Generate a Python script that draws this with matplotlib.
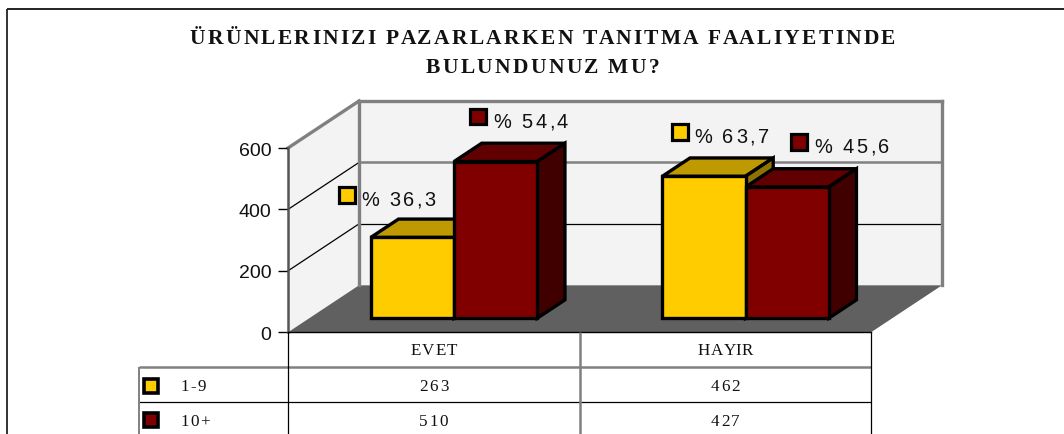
import matplotlib
matplotlib.use("Agg")
import matplotlib.pyplot as plt
from matplotlib.patches import Polygon, Rectangle
from matplotlib.text import Text
from matplotlib.transforms import Bbox, IdentityTransform

# ---------- data ----------
title_text = "ÜRÜNLERINIZI PAZARLARKEN TANITMA FAALIYETINDE\nBULUNDUNUZ MU?"
categories = ["EVET", "HAYIR"]
series_names = ["1-9", "10+"]
values_small = [263, 462]
values_large = [510, 427]
labels_small = ["% 36,3", "% 63,7"]
labels_large = ["% 54,4", "% 45,6"]
y_ticks = [0, 200, 400, 600]

# ---------- style ----------
W, H = 1064, 435
YELLOW = ("#FFCC00", "#BF9900", "#8F7300")
RED = ("#800000", "#600000", "#400000")
WALL = "#F3F3F3"
FLOOR = "#606060"
GRID = "#808080"
SERIF = "Liberation Serif"
SANS = "Liberation Sans"
PX = 0.72  # points per pixel at dpi 100


class SpacedText(Text):
    """A single text object whose glyphs are drawn with extra tracking."""

    def __init__(self, x, y, text, spacing=0.0, line_px=0.0, **kw):
        super().__init__(x, y, text, **kw)
        self.spacing = spacing
        self.line_px = line_px

    def _glyphs(self, renderer):
        fp = self.get_fontproperties()
        measure = lambda s: renderer.get_text_width_height_descent(s, fp, False)[0]
        x0, y0 = self.get_transform().transform(self.get_unitless_position())
        out = []
        for n, line in enumerate(self.get_text().split("\n")):
            bar = measure("|")
            total = measure(line + "|") - bar + self.spacing * (len(line) - 1)
            start = x0 - total / 2 if self.get_ha() == "center" else x0
            for i, ch in enumerate(line):
                out.append((ch, start + measure(line[:i] + "|") - bar + i * self.spacing,
                            y0 - n * self.line_px))
        return out, fp

    def draw(self, renderer):
        glyphs, fp = self._glyphs(renderer)
        for ch, px, py in glyphs:
            t = Text(px, py, ch, transform=IdentityTransform(), fontproperties=fp,
                     color=self.get_color(), va="baseline", ha="left")
            t.set_figure(self.get_figure())
            t.draw(renderer)

    def get_window_extent(self, renderer=None, dpi=None):
        if renderer is None:
            renderer = self.get_figure()._get_renderer()
        glyphs, fp = self._glyphs(renderer)
        size = fp.get_size_in_points() / PX
        xs = [g[1] for g in glyphs]
        ys = [g[2] for g in glyphs]
        return Bbox([[min(xs), min(ys) - 0.2 * size], [max(xs) + 0.6 * size, max(ys) + 0.75 * size]])


fig = plt.figure(figsize=(W / 100, H / 100), dpi=100, facecolor="white")

# page axes in reference pixels, for frame, title and table
page = fig.add_axes([0, 0, 1, 1], zorder=3)
page.set_xlim(0, W)
page.set_ylim(H, 0)
page.axis("off")

# chart axes: the front plane of the oblique 3-D box
LEFT, RIGHT, BASE, TOP = 288, 871, 333.3, 149
ax = fig.add_axes([LEFT / W, 1 - BASE / H, (RIGHT - LEFT) / W, (BASE - TOP) / H], zorder=2)
ax.patch.set_visible(False)
ax.set_xlim(0, len(categories))
ax.set_ylim(0, 600)
ax.set_xticks([])
ax.set_yticks(y_ticks)
ax.set_yticklabels([str(v) for v in y_ticks], family=SANS, fontsize=14, color="#111111")
ax.tick_params(axis="y", length=7, width=1, pad=5, color="black")
for s in ("top", "right"):
    ax.spines[s].set_visible(False)
ax.spines["left"].set(color="#555555", linewidth=1.8)
ax.spines["bottom"].set(color="black", linewidth=1)

DX = 71 / ((RIGHT - LEFT) / len(categories))  # depth shift in category units
DV = 47 / ((BASE - TOP) / 600)               # depth shift in value units


def P(x, v, d=0.0):
    return (x + d * DX, v + d * DV)


def poly(pts, **kw):
    kw.setdefault("joinstyle", "miter")
    ax.add_patch(Polygon(pts, closed=True, clip_on=False, **kw))


def seg(a, b, color, lw, z=1):
    ax.plot([a[0], b[0]], [a[1], b[1]], color=color, lw=lw, clip_on=False, zorder=z,
            solid_capstyle="projecting")


# walls and floor
n = len(categories)
poly([P(0, 0), P(0, 600), P(0, 600, 1), P(0, 0, 1)], facecolor=WALL, edgecolor="none", zorder=0.5)
poly([P(0, 0, 1), P(0, 600, 1), P(n, 600, 1), P(n, 0, 1)], facecolor=WALL, edgecolor="none", zorder=0.5)
poly([P(0, 0), P(0, 0, 1), P(n, 0, 1), P(n, 0)], facecolor=FLOOR, edgecolor="none", zorder=0.6)

# gridlines
for v in y_ticks[1:-1]:
    style = (GRID, 1.8) if v == 400 else ("black", 0.9)
    seg(P(0, v), P(0, v, 1), "black", 0.9)
    seg(P(0, v, 1), P(n, v, 1), *style)
# wall edges
seg(P(0, 600), P(0, 600, 1), GRID, 2.4, 1.2)
seg(P(0, 600, 1), P(n, 600, 1), GRID, 2.4, 1.2)
seg(P(0, 0, 1), P(0, 600, 1), GRID, 2.4, 1.2)
seg(P(n, 0, 1), P(n, 600, 1), GRID, 2.4, 1.2)

# bars
BAR_W = 0.2855
MARGIN = 0.211
D0, D1 = 0.30, 0.69
LW = 2.4


def solid(x, v, colors, z):
    kw = dict(edgecolor="black", linewidth=LW, zorder=z)
    # top and side first, front last
    poly([P(x, v, D0), P(x, v, D1), P(x + BAR_W, v, D1), P(x + BAR_W, v, D0)], facecolor=colors[1], **kw)
    poly([P(x + BAR_W, 0, D0), P(x + BAR_W, 0, D1), P(x + BAR_W, v, D1), P(x + BAR_W, v, D0)],
         facecolor=colors[2], **kw)


def front(x, v, colors, z):
    poly([P(x, 0, D0), P(x, v, D0), P(x + BAR_W, v, D0), P(x + BAR_W, 0, D0)],
         facecolor=colors[0], edgecolor="black", linewidth=LW, zorder=z)


for i in range(n):
    x_small = i + MARGIN
    x_large = x_small + BAR_W
    solid(x_small, values_small[i], YELLOW, 2)
    solid(x_large, values_large[i], RED, 2.1)
    front(x_small, values_small[i], YELLOW, 2.2)
    front(x_large, values_large[i], RED, 2.2)


# ---------- page furniture ----------
def pline(xs, ys, color="black", lw=1.0):
    page.plot(xs, ys, color=color, lw=lw, solid_capstyle="butt", clip_on=False)


def key(cx, cy, color, size=15, lw=2.3):
    page.add_patch(Rectangle((cx - size / 2, cy - size / 2), size, size, facecolor=color,
                             edgecolor="black", linewidth=lw, joinstyle="miter"))


def spaced(x, y, s, family, px, spacing, ha="left", weight="normal", color="black", line_px=0.0):
    t = SpacedText(x, y, s, spacing=spacing, line_px=line_px, family=family, fontsize=px * PX,
                   fontweight=weight, color=color, ha=ha, va="baseline",
                   transform=page.transData, clip_on=False)
    page.add_artist(t)
    return t


# outer frame
pline([7, 7], [H, 10], "#333333", 1.4)
pline([7, W], [10, 10], "#222222", 1.4)

# title
spaced(542.5, 44.5, title_text, SERIF, 21.5, 2.3, ha="center", weight="bold", color="#111111", line_px=28.5)

# table
COL = [288, 579.5, 871]
ROW = [333.3, 367.5, 403, H]
pline([139, 871], [ROW[1], ROW[1]], GRID, 1.8)
pline([139, 871], [ROW[2], ROW[2]], "black", 0.9)
pline([139, 139], [ROW[1], H], GRID, 1.4)
pline([COL[0], COL[0]], [ROW[0], H], "black", 0.9)
pline([COL[1], COL[1]], [ROW[0], H], GRID, 1.8)
pline([COL[2], COL[2]], [ROW[0], H], "black", 0.9)

centers = [(COL[0] + COL[1]) / 2, (COL[1] + COL[2]) / 2]
for i, name in enumerate(categories):
    spaced(centers[i], 355.5, name, SERIF, 17, 0.9, ha="center", color="#111111")
    spaced(centers[i], 391.5, str(values_small[i]), SERIF, 17, 1.6, ha="center", color="#111111")
    spaced(centers[i], 426.5, str(values_large[i]), SERIF, 17, 1.6, ha="center", color="#111111")

key(151, 387, YELLOW[0], 14, 2.6)
key(151, 421, RED[0], 14, 2.6)
spaced(181, 391.5, series_names[0], SERIF, 17, 1.2, color="#111111")
spaced(181, 426.5, series_names[1], SERIF, 17, 1.2, color="#111111")

# data labels with their legend keys
small_pos = [(361, 206), (694, 143)]
large_pos = [(493, 127.5), (814, 153)]
for (lx, ly), s in zip(small_pos, labels_small):
    key(lx - 14, ly - 10, YELLOW[0], 15.5)
    spaced(lx, ly, s, SANS, 20, 2.5, color="#111111")
for (lx, ly), s in zip(large_pos, labels_large):
    key(lx - 15, ly - 10, RED[0], 15.5)
    spaced(lx, ly, s, SANS, 20, 2.5, color="#111111")

fig.savefig("out.png", dpi=100)
